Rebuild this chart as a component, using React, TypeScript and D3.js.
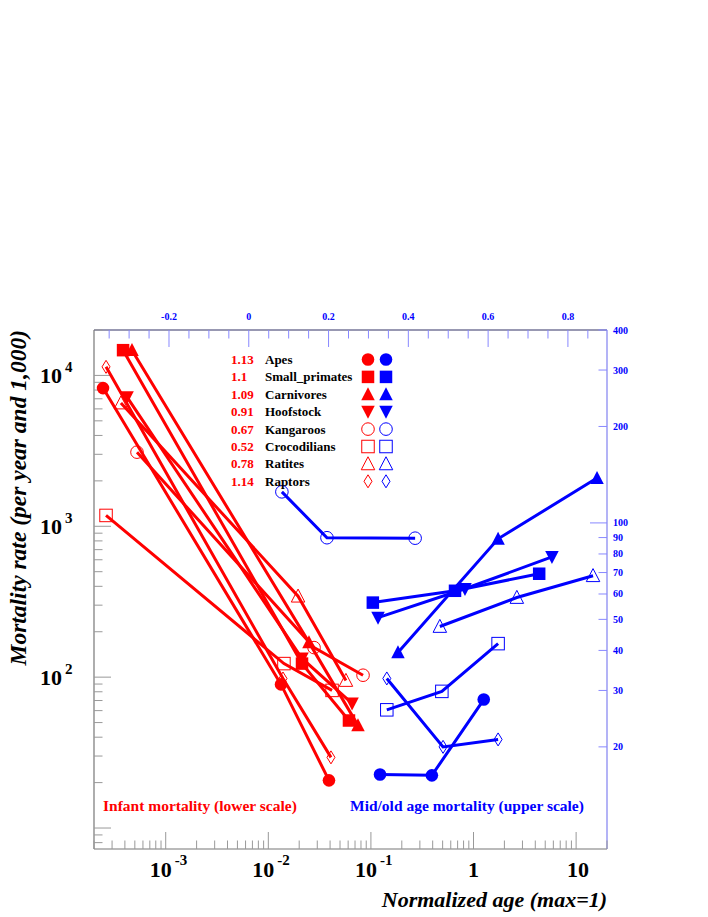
import React from "react";
import * as d3 from "d3";

const groups = ["Apes", "Small_primates", "Carnivores", "Hoofstock", "Kangaroos", "Crocodilians", "Ratites", "Raptors"];
const slopes = ["1.13", "1.1", "1.09", "0.91", "0.67", "0.52", "0.78", "1.14"];
const markerTypes = ["circleF", "squareF", "triUpF", "triDownF", "circleO", "squareO", "triUpO", "diamondO"];

// Infant mortality (lower log scale x, left log scale y)
const infantAge = [
  [2.45e-4, 0.0133, 0.039],
  [3.84e-4, 0.0213, 0.0611],
  [4.69e-4, 0.0249, 0.0748],
  [4.2e-4, 0.0213, 0.0655],
  [5.25e-4, 0.0279, 0.0838],
  [2.62e-4, 0.0142, 0.0418],
  [3.66e-4, 0.0195, 0.0571],
  [2.62e-4, 0.0139, 0.0408],
];
const infantRate = [
  [8240, 89.5, 20.7],
  [14700, 123, 51.6],
  [14700, 170, 47.9],
  [7180, 133, 67],
  [3100, 157, 103],
  [1180, 123, 81.7],
  [6560, 344, 95],
  [11400, 98, 29.4],
];

// Mid/old age mortality (upper linear scale x, right log scale y)
const adultAge = [
  [0.329, 0.459, 0.589],
  [0.311, 0.517, 0.728],
  [0.374, 0.625, 0.873],
  [0.324, 0.542, 0.76],
  [0.083, 0.196, 0.417],
  [0.346, 0.484, 0.625],
  [0.479, 0.672, 0.863],
  [0.346, 0.487, 0.625],
];
const adultRate = [
  [16.4, 16.3, 28.1],
  [56.4, 61.4, 69.4],
  [39.4, 89.2, 138],
  [50.6, 62.3, 78.3],
  [125, 89.9, 89.6],
  [26.1, 29.8, 42.0],
  [47.5, 58.5, 68.4],
  [32.7, 20.0, 21.1],
];

const leftTickDecades = [0, 1, 2, 3, 4];
const leftLabels = [2, 3, 4];
const bottomTickDecades = [-4, -3, -2, -1, 0, 1];
const bottomLabels = [-3, -2, -1, 0, 1];
const topLabels = [-0.2, 0, 0.2, 0.4, 0.6, 0.8];
const rightTickValues = [20, 30, 40, 50, 60, 70, 80, 90, 100, 200, 300, 400];

const RED = "#ff0000";
const BLUE = "#0000ff";
const SERIF = "'Liberation Serif', 'Times New Roman', serif";

const L = 94, R = 607, T = 330, B = 849;
const xLow = d3.scaleLog().domain([2e-4, 20]).range([L, R]);
const yLeft = d3.scaleLog().domain([7.26, 2e4]).range([B, T]);
const xTop = d3.scaleLinear().domain([-0.388, 0.898]).range([L, R]);
const yRight = d3.scaleLog().domain([9.6, 400]).range([B, T]);

function Marker({ type, x, y, color }: { type: string; x: number; y: number; color: string }) {
  const filled = type.endsWith("F");
  const fill = filled ? color : "none";
  const stroke = color;
  const sw = filled ? 0 : 1;
  const base = type.slice(0, -1);
  if (base === "circle") {
    return <circle cx={x} cy={y} r={6.3} fill={filled ? color : "#fff"} fillOpacity={filled ? 1 : 0} stroke={stroke} strokeWidth={sw} />;
  }
  if (base === "square") {
    const s = 12.5;
    return <rect x={x - s / 2} y={y - s / 2} width={s} height={s} fill={fill} stroke={stroke} strokeWidth={sw} />;
  }
  if (base === "triUp") {
    const h = 13, w = 13.5;
    const p = `M${x},${y - h * 0.55}L${x + w / 2},${y + h * 0.45}L${x - w / 2},${y + h * 0.45}Z`;
    return <path d={p} fill={fill} stroke={stroke} strokeWidth={sw} />;
  }
  if (base === "triDown") {
    const h = 13, w = 13.5;
    const p = `M${x},${y + h * 0.55}L${x + w / 2},${y - h * 0.45}L${x - w / 2},${y - h * 0.45}Z`;
    return <path d={p} fill={fill} stroke={stroke} strokeWidth={sw} />;
  }
  const hw = 4, hh = 6.5;
  const p = `M${x},${y - hh}L${x + hw},${y}L${x},${y + hh}L${x - hw},${y}Z`;
  return <path d={p} fill={fill} stroke={stroke} strokeWidth={sw} />;
}

export default function App() {
  const line = d3.line<[number, number]>().x((d) => d[0]).y((d) => d[1]);

  const leftTicks: { v: number; major: boolean }[] = [];
  leftTickDecades.forEach((k) => {
    for (let m = 1; m <= 9; m++) {
      const v = m * Math.pow(10, k);
      if (v >= 7.26 && v <= 2e4) leftTicks.push({ v, major: m === 1 });
    }
  });
  const bottomTicks: { v: number; major: boolean }[] = [];
  bottomTickDecades.forEach((k) => {
    for (let m = 1; m <= 9; m++) {
      const v = m * Math.pow(10, k);
      if (v >= 2e-4 && v <= 20.0001) bottomTicks.push({ v, major: m === 1 });
    }
  });
  const topTicks: { v: number; major: boolean }[] = [];
  for (let i = -7; i <= 17; i++) {
    const v = i * 0.05;
    topTicks.push({ v, major: i % 4 === 0 });
  }

  return (
    <svg width={708} height={917} style={{ position: "absolute", left: 0, top: 0, background: "#fff" }} fontFamily={SERIF}>
      <rect x={0} y={0} width={708} height={917} fill="#fff" />
      {/* frame */}
      <line x1={L} y1={T} x2={L} y2={B} stroke="#777" strokeWidth={1.2} />
      <line x1={L} y1={B} x2={R} y2={B} stroke="#777" strokeWidth={1.2} />
      <line x1={L} y1={T} x2={R} y2={T} stroke="#333366" strokeWidth={1.2} />
      <line x1={R} y1={T} x2={R} y2={B} stroke="#8080f0" strokeWidth={1.2} />

      {/* left ticks */}
      {leftTicks.map((t, i) => (
        <line key={"lt" + i} x1={L} x2={L + (t.major ? 17 : 8.5)} y1={yLeft(t.v)} y2={yLeft(t.v)} stroke="#999" strokeWidth={1} />
      ))}
      {leftLabels.map((k) => (
        <g key={"ll" + k}>
          <text x={62} y={yLeft(Math.pow(10, k)) + 7.5} fontSize={22} fontWeight="bold" textAnchor="end" fill="#000">10</text>
          <text x={65} y={yLeft(Math.pow(10, k)) - 3} fontSize={15} fontWeight="bold" fill="#000">{k}</text>
        </g>
      ))}

      {/* bottom ticks */}
      {bottomTicks.map((t, i) => (
        <line key={"bt" + i} x1={xLow(t.v)} x2={xLow(t.v)} y1={B} y2={B - (t.major ? 17 : 8.5)} stroke="#999" strokeWidth={1} />
      ))}
      {bottomLabels.map((k) => {
        const x = xLow(Math.pow(10, k));
        if (k < 0) {
          return (
            <g key={"bl" + k}>
              <text x={x + 6} y={877} fontSize={22} fontWeight="bold" textAnchor="end">10</text>
              <text x={x + 9} y={865} fontSize={15} fontWeight="bold">{k}</text>
            </g>
          );
        }
        return (
          <text key={"bl" + k} x={x + (k === 1 ? 2 : 0)} y={877} fontSize={22} fontWeight="bold" textAnchor="middle">
            {k === 0 ? "1" : "10"}
          </text>
        );
      })}

      {/* top ticks */}
      {topTicks.map((t, i) => (
        <line key={"tt" + i} x1={xTop(t.v)} x2={xTop(t.v)} y1={T} y2={T + (t.major ? 17 : 8.5)} stroke="#8888ff" strokeWidth={1} />
      ))}
      {topLabels.map((v) => (
        <text key={"tl" + v} x={xTop(v)} y={319.5} fontSize={10} fontWeight="bold" fill={BLUE} textAnchor="middle">
          {String(v)}
        </text>
      ))}

      {/* right ticks */}
      {rightTickValues.map((v) => (
        <g key={"rt" + v}>
          <line x1={R} x2={R - (v === 100 ? 17 : 8.5)} y1={yRight(v)} y2={yRight(v)} stroke="#8888ff" strokeWidth={1} />
          <text x={613} y={yRight(v) + 3.5} fontSize={10} fontWeight="bold" fill={BLUE}>{v}</text>
        </g>
      ))}

      {/* axis titles */}
      <text x={607} y={907} fontSize={22} fontWeight="bold" fontStyle="italic" textAnchor="end">Normalized age (max=1)</text>
      <text transform="translate(26,330) rotate(-90)" fontSize={23.5} fontWeight="bold" fontStyle="italic" textAnchor="end">
        Mortality rate (per year and 1,000)
      </text>

      {/* infant series */}
      {groups.map((g, gi) => {
        const pts: [number, number][] = infantAge[gi].map((a, j) => [xLow(a), yLeft(infantRate[gi][j])]);
        return (
          <g key={"inf" + g}>
            <path d={line(pts) || ""} fill="none" stroke={RED} strokeWidth={3} />
            {pts.map((p, j) => (
              <Marker key={j} type={markerTypes[gi]} x={p[0]} y={p[1]} color={RED} />
            ))}
          </g>
        );
      })}

      {/* adult series */}
      {groups.map((g, gi) => {
        const pts: [number, number][] = adultAge[gi].map((a, j) => [xTop(a), yRight(adultRate[gi][j])]);
        return (
          <g key={"ad" + g}>
            <path d={line(pts) || ""} fill="none" stroke={BLUE} strokeWidth={3} />
            {pts.map((p, j) => (
              <Marker key={j} type={markerTypes[gi]} x={p[0]} y={p[1]} color={BLUE} />
            ))}
          </g>
        );
      })}

      {/* legend */}
      {groups.map((g, i) => {
        const cy = 359.5 + i * 17.4;
        return (
          <g key={"lg" + g}>
            <text x={231} y={cy + 4.5} fontSize={13} fontWeight="bold" fill={RED}>{slopes[i]}</text>
            <text x={265} y={cy + 4.5} fontSize={13} fontWeight="bold" fill="#000">{g}</text>
            <Marker type={markerTypes[i]} x={368} y={cy} color={RED} />
            <Marker type={markerTypes[i]} x={386} y={cy} color={BLUE} />
          </g>
        );
      })}

      <text x={103} y={811} fontSize={15.5} fontWeight="bold" fill={RED}>Infant mortality (lower scale)</text>
      <text x={350} y={811} fontSize={15.5} fontWeight="bold" fill={BLUE}>Mid/old age mortality (upper scale)</text>
    </svg>
  );
}
